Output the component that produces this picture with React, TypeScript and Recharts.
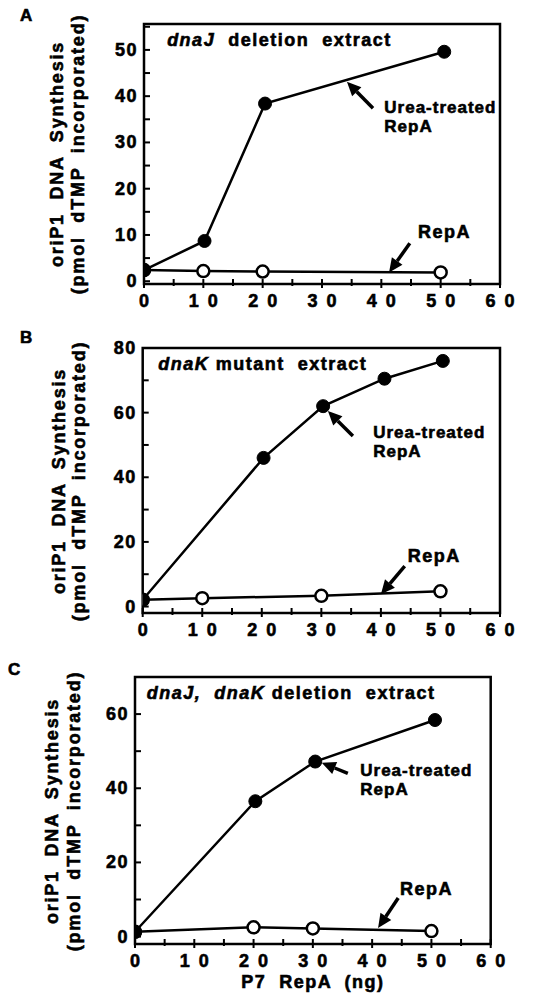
import { Line, LineChart, ReferenceArea, ReferenceDot, ReferenceLine, XAxis, YAxis } from "recharts";

const FONT = "'Liberation Sans', Arial, Helvetica, sans-serif";

// x axis (P7 RepA, ng) shared by all panels
const xTicks = [0, 5, 10, 15, 20, 25, 30, 35, 40, 45, 50, 55, 60];

// A: dnaJ deletion extract
const ureaXA = [0, 10.2, 20.4, 50.6];
const ureaYA = [2.4, 8.7, 38.4, 49.6];
const repaXA = [0, 10, 20, 50];
const repaYA = [2.4, 2.2, 2.1, 1.9];
const yTicksA = [0, 5, 10, 15, 20, 25, 30, 35, 40, 45, 50, 55];
const yLabelsA = [0, 10, 20, 30, 40, 50];

// B: dnaK mutant extract
const ureaXB = [0, 20.3, 30.3, 40.6, 50.4];
const ureaYB = [2.1, 46.0, 62.0, 70.5, 76.0];
const repaXB = [0, 10, 30, 50];
const repaYB = [2.1, 2.6, 3.3, 4.7];
const yTicksB = [0, 10, 20, 30, 40, 50, 60, 70, 80];
const yLabelsB = [0, 20, 40, 60, 80];

// C: dnaJ, dnaK deletion extract
const ureaXC = [0, 20.3, 30.4, 50.6];
const ureaYC = [1.3, 36.5, 47.2, 58.4];
const repaXC = [0, 20, 30, 50];
const repaYC = [1.3, 2.5, 2.2, 1.5];
const yTicksC = [0, 10, 20, 30, 40, 50, 60, 70];
const yLabelsC = [0, 20, 40, 60];

const zip = (xs: number[], ys: number[]) => xs.map((x, i) => ({ x, y: ys[i] }));

type Pt = { x: number; y: number };

type PanelProps = {
  letter: string;
  top: number;
  height: number;
  plot: { left: number; right: number; top: number; bottom: number };
  yDomain: [number, number];
  yTicks: number[];
  yLabels: number[];
  urea: Pt[];
  repa: Pt[];
  title: React.ReactNode;
  titleAt: Pt;
  ureaArrow: [Pt, Pt];
  ureaTextAt: Pt;
  repaArrow: [Pt, Pt];
  repaTextAt: Pt;
  letterPos: { left: number; top: number };
  yTitleX: [number, number];
  xTitle?: boolean;
};

// heavy sans like the original print
const textStyle = {
  fontFamily: FONT,
  fontWeight: 700,
  fontSize: 18,
  fill: "#000",
  stroke: "#000",
  strokeWidth: 0.6,
};

const htmlText = {
  fontFamily: FONT,
  fontWeight: 700,
  fontSize: 18,
  WebkitTextStroke: "0.6px #000",
};

function XTick({ x, y, payload }: any) {
  const v = payload.value as number;
  const major = v % 10 === 0;
  return (
    <g>
      <line x1={x} y1={y - 5} x2={x} y2={y + (major ? 4 : 2)} stroke="#000" strokeWidth={2} />
      {major ? (
        <text x={x} y={y + 23} dx={4.5} textAnchor="middle" letterSpacing={9} style={textStyle}>
          {v}
        </text>
      ) : null}
    </g>
  );
}

function YTick({ x, y, payload, labels }: any) {
  const v = payload.value as number;
  return (
    <g>
      <line x1={x} y1={y} x2={x + 6} y2={y} stroke="#000" strokeWidth={2} />
      {labels.includes(v) ? (
        <text x={x - 6} y={y + 6} textAnchor="end" letterSpacing={1.5} style={textStyle}>
          {v}
        </text>
      ) : null}
    </g>
  );
}

function Arrow({ x1, y1, x2, y2 }: any) {
  const ang = Math.atan2(y2 - y1, x2 - x1);
  const len = 14;
  const half = 6.5;
  const bx = x2 - len * Math.cos(ang);
  const by = y2 - len * Math.sin(ang);
  const px = -Math.sin(ang) * half;
  const py = Math.cos(ang) * half;
  return (
    <g>
      <line x1={x1} y1={y1} x2={bx} y2={by} stroke="#000" strokeWidth={3.5} />
      <polygon points={`${x2},${y2} ${bx + px},${by + py} ${bx - px},${by - py}`} fill="#000" />
    </g>
  );
}

function Panel(p: PanelProps) {
  const W = 537;
  const yAxisW = 40;
  const xAxisH = 30;
  const margin = {
    top: p.plot.top - p.top,
    right: W - p.plot.right,
    left: p.plot.left - yAxisW,
    bottom: p.top + p.height - p.plot.bottom - xAxisH,
  };
  const cy = (p.plot.top + p.plot.bottom) / 2 - p.top;
  const rot = {
    ...htmlText,
    position: "absolute" as const,
    top: cy,
    transform: "translate(-50%, -50%) rotate(-90deg)",
    whiteSpace: "pre" as const,
    letterSpacing: 1.8,
    lineHeight: 1,
  };
  return (
    <div style={{ position: "absolute", left: 0, top: p.top, width: W, height: p.height }}>
      <div
        style={{
          ...htmlText,
          position: "absolute",
          left: p.letterPos.left,
          top: p.letterPos.top - p.top,
          fontSize: 17,
        }}
      >
        {p.letter}
      </div>
      <div style={{ ...rot, left: p.yTitleX[0] }}>oriP1  DNA  Synthesis</div>
      <div style={{ ...rot, left: p.yTitleX[1] }}>(pmol  dTMP  incorporated)</div>
      <LineChart width={W} height={p.height} margin={margin}>
        <XAxis
          type="number"
          dataKey="x"
          domain={[0, 60]}
          ticks={xTicks}
          interval={0}
          allowDataOverflow
          axisLine={false}
          tickLine={false}
          tickSize={0}
          tickMargin={0}
          height={xAxisH}
          tick={(t: any) => <XTick {...t} />}
        />
        <YAxis
          type="number"
          dataKey="y"
          domain={p.yDomain}
          ticks={p.yTicks}
          interval={0}
          allowDataOverflow
          axisLine={false}
          tickLine={false}
          tickSize={0}
          tickMargin={0}
          width={yAxisW}
          tick={(t: any) => <YTick {...t} labels={p.yLabels} />}
        />
        <ReferenceArea
          x1={0}
          x2={60}
          y1={p.yDomain[0]}
          y2={p.yDomain[1]}
          fill="none"
          fillOpacity={0}
          stroke="#000"
          strokeWidth={2.5}
          ifOverflow="visible"
        />
        <Line
          data={p.repa}
          dataKey="y"
          type="linear"
          stroke="#000"
          strokeWidth={2.5}
          dot={{ r: 6, fill: "#fff", stroke: "#000", strokeWidth: 2.5 }}
          isAnimationActive={false}
        />
        <Line
          data={p.urea}
          dataKey="y"
          type="linear"
          stroke="#000"
          strokeWidth={2.5}
          dot={{ r: 6.5, fill: "#000", stroke: "#000", strokeWidth: 1 }}
          isAnimationActive={false}
        />
        <ReferenceLine segment={p.ureaArrow} shape={(s: any) => <Arrow {...s} />} ifOverflow="visible" />
        <ReferenceLine segment={p.repaArrow} shape={(s: any) => <Arrow {...s} />} ifOverflow="visible" />
        <ReferenceDot
          x={p.titleAt.x}
          y={p.titleAt.y}
          ifOverflow="visible"
          shape={(d: any) => (
            <text x={d.cx} y={d.cy} letterSpacing={1.5} style={{ ...textStyle, whiteSpace: "pre" }}>
              {p.title}
            </text>
          )}
        />
        <ReferenceDot
          x={p.ureaTextAt.x}
          y={p.ureaTextAt.y}
          ifOverflow="visible"
          shape={(d: any) => (
            <g>
              <text x={d.cx} y={d.cy} letterSpacing={1} style={{ ...textStyle, fontSize: 17 }}>
                Urea-treated
              </text>
              <text x={d.cx} y={d.cy + 19} letterSpacing={1} style={{ ...textStyle, fontSize: 17 }}>
                RepA
              </text>
            </g>
          )}
        />
        <ReferenceDot
          x={p.repaTextAt.x}
          y={p.repaTextAt.y}
          ifOverflow="visible"
          shape={(d: any) => (
            <text x={d.cx} y={d.cy} letterSpacing={1.5} style={textStyle}>
              RepA
            </text>
          )}
        />
      </LineChart>
      {p.xTitle ? (
        <div
          style={{
            ...htmlText,
            position: "absolute",
            left: (p.plot.left + p.plot.right) / 2,
            top: p.plot.bottom - p.top + 38,
            transform: "translate(-50%, -50%)",
            whiteSpace: "pre",
            letterSpacing: 1.5,
          }}
        >
          P7  RepA  (ng)
        </div>
      ) : null}
    </div>
  );
}

export default function App() {
  return (
    <div style={{ position: "absolute", left: 0, top: 0, width: 537, height: 998, background: "#fff" }}>
      <Panel
        letter="A"
        top={0}
        height={320}
        plot={{ left: 144, right: 500, top: 24, bottom: 284 }}
        yDomain={[-0.6, 55.6]}
        yTicks={yTicksA}
        yLabels={yLabelsA}
        urea={zip(ureaXA, ureaYA)}
        repa={zip(repaXA, repaYA)}
        title={
          <>
            <tspan fontStyle="italic">dnaJ</tspan>
            {"  deletion  extract"}
          </>
        }
        titleAt={{ x: 3.9, y: 50.9 }}
        ureaArrow={[
          { x: 38.6, y: 37.4 },
          { x: 34.2, y: 43.1 },
        ]}
        ureaTextAt={{ x: 40.5, y: 36.4 }}
        repaArrow={[
          { x: 44.8, y: 8.2 },
          { x: 41.3, y: 1.9 },
        ]}
        repaTextAt={{ x: 46.2, y: 9.3 }}
        letterPos={{ left: 20, top: 6 }}
        yTitleX={[57, 78]}
      />
      <Panel
        letter="B"
        top={330}
        height={320}
        plot={{ left: 142.7, right: 500, top: 348, bottom: 613 }}
        yDomain={[-2, 80]}
        yTicks={yTicksB}
        yLabels={yLabelsB}
        urea={zip(ureaXB, ureaYB)}
        repa={zip(repaXB, repaYB)}
        title={
          <>
            <tspan fontStyle="italic">dnaK</tspan>
            {" mutant  extract"}
          </>
        }
        titleAt={{ x: 2.6, y: 73.2 }}
        ureaArrow={[
          { x: 35.3, y: 52.8 },
          { x: 31.1, y: 60.5 },
        ]}
        ureaTextAt={{ x: 38.7, y: 52.2 }}
        repaArrow={[
          { x: 44.0, y: 12.5 },
          { x: 40.0, y: 3.8 },
        ]}
        repaTextAt={{ x: 44.5, y: 13.7 }}
        letterPos={{ left: 20, top: 328 }}
        yTitleX={[59, 79]}
      />
      <Panel
        letter="C"
        top={655}
        height={343}
        plot={{ left: 135, right: 490.7, top: 677, bottom: 944 }}
        yDomain={[-2, 70]}
        yTicks={yTicksC}
        yLabels={yLabelsC}
        urea={zip(ureaXC, ureaYC)}
        repa={zip(repaXC, repaYC)}
        title={
          <>
            <tspan fontStyle="italic">dnaJ,  dnaK</tspan>
            {" deletion  extract"}
          </>
        }
        titleAt={{ x: 2.0, y: 64.1 }}
        ureaArrow={[
          { x: 35.9, y: 44.0 },
          { x: 31.5, y: 46.9 },
        ]}
        ureaTextAt={{ x: 38.0, y: 43.4 }}
        repaArrow={[
          { x: 44.4, y: 10.4 },
          { x: 41.0, y: 2.3 },
        ]}
        repaTextAt={{ x: 44.7, y: 11.2 }}
        letterPos={{ left: 8, top: 660 }}
        yTitleX={[52, 74]}
        xTitle
      />
    </div>
  );
}
